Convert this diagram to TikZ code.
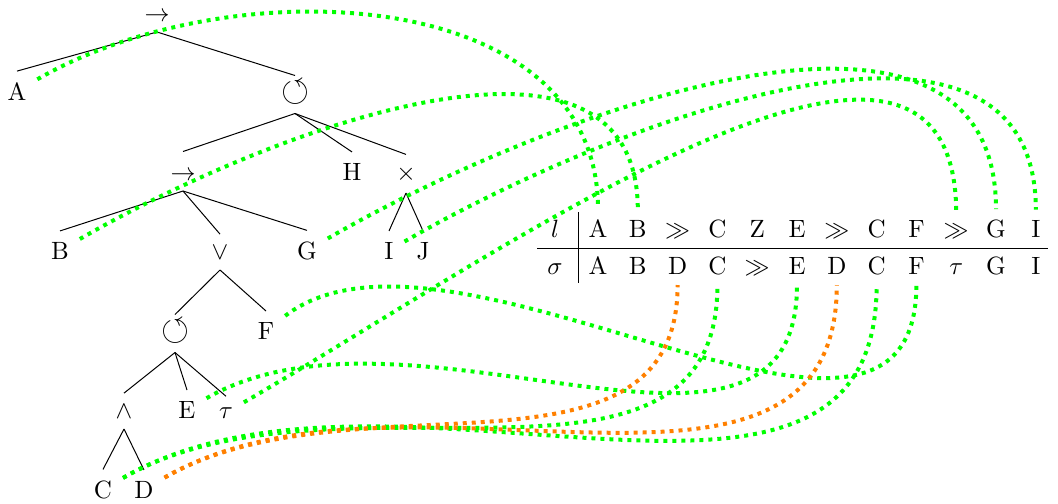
\documentclass[tikz,border=0pt]{standalone}
\usepackage{amssymb}
\begin{document}
\begin{tikzpicture}[x=0.4pt,y=0.4pt,
  tn/.style={inner sep=4.2pt, anchor=base},
  seqop/.style={tn, text height=7pt},
  rootop/.style={tn, inner sep=2pt, text depth=2.2pt},
  loopop/.style={tn, text height=5.8pt, text depth=0.6pt, font=\Large},
  treeline/.style={line width=0.4pt},
  cell/.style={inner sep=4.2pt, anchor=base},
  mv/.style={line width=1.6pt, dash pattern=on 1.6pt off 2pt},
  sync/.style={mv, green},
  bad/.style={mv, orange}]
\useasboundingbox (0,0) rectangle (1058,503);
% process tree
\node[rootop] (root) at (157,482) {$\rightarrow$};
\node[tn] (A) at (17,403) {A};
\node[loopop] (O1) at (295,402) {$\circlearrowleft$};
\node[seqop] (T2) at (183,323) {$\rightarrow$};
\node[tn] (H) at (352,323) {H};
\node[tn] (X) at (406,323) {$\times$};
\node[tn] (B) at (60,244) {B};
\node[tn] (V) at (220,244) {$\vee$};
\node[tn] (G) at (307,244) {G};
\node[tn] (I) at (389,244) {I};
\node[tn] (J) at (423,244) {J};
\node[loopop] (O2) at (175,163) {$\circlearrowleft$};
\node[tn] (F) at (266,164) {F};
\node[tn] (W) at (124,85) {$\wedge$};
\node[tn] (E) at (187,85) {E};
\node[tn] (tau) at (226,85) {$\tau$};
\node[tn] (C) at (103,5) {C};
\node[tn] (D) at (144,5) {D};
\foreach \p/\c in {root/A, root/O1, O1/T2, O1/H, O1/X, T2/B, T2/V, T2/G,
  X/I, X/J, V/O2, V/F, O2/W, O2/E, O2/tau, W/C, W/D}
  \draw[treeline] (\p.south) -- (\c.north);
% alignment table
\node[cell] (lh) at (555,265.3) {$l$};
\node[cell] (sh) at (555,229) {$\sigma$};
\foreach \i/\x/\t in {1/598/A, 2/637.8/B, 3/677.6/{$\gg$}, 4/717.4/C, 5/757.2/Z,
  6/797/E, 7/836.8/{$\gg$}, 8/876.6/C, 9/916.4/F, 10/956.2/{$\gg$}, 11/996/G, 12/1035.8/I}
  \node[cell] (l\i) at (\x,265.3) {\t};
\foreach \i/\x/\t in {1/598/A, 2/637.8/B, 3/677.6/D, 4/717.4/C, 5/757.2/{$\gg$},
  6/797/E, 7/836.8/D, 8/876.6/C, 9/916.4/F, 10/956.2/{$\tau$}, 11/996/G, 12/1035.8/I}
  \node[cell] (s\i) at (\x,229) {\t};
\coordinate (vt) at (578,291);
\coordinate (vb) at (578,220);
\coordinate (hl) at (537,255);
\coordinate (hr) at (1048,255);
\draw[treeline] (vt) -- (vb);
\draw[treeline] (hl) -- (hr);
% connectors
\draw[sync] (A) to[out=30,in=90] (l1.north);
\draw[sync] (B) to[out=30,in=90] (l2.north);
\draw[sync] (G) to[out=30,in=90] (l11.north);
\draw[sync] (I) to[out=30,in=90] (l12.north);
\draw[sync] (tau) to[out=30,in=90] (l10.north);
\draw[sync] (C) to[out=30,in=-90] (s4.south);
\draw[sync] (C) to[out=30,in=-90] (s8.south);
\draw[sync] (E) to[out=30,in=-90] (s6.south);
\draw[sync] (F) .. controls (452,315) and (916,-32) .. (s9.south);
\draw[bad] (D) to[out=30,in=-90] (s3.south);
\draw[bad] (D) to[out=30,in=-90] (s7.south);
\end{tikzpicture}
\end{document}
